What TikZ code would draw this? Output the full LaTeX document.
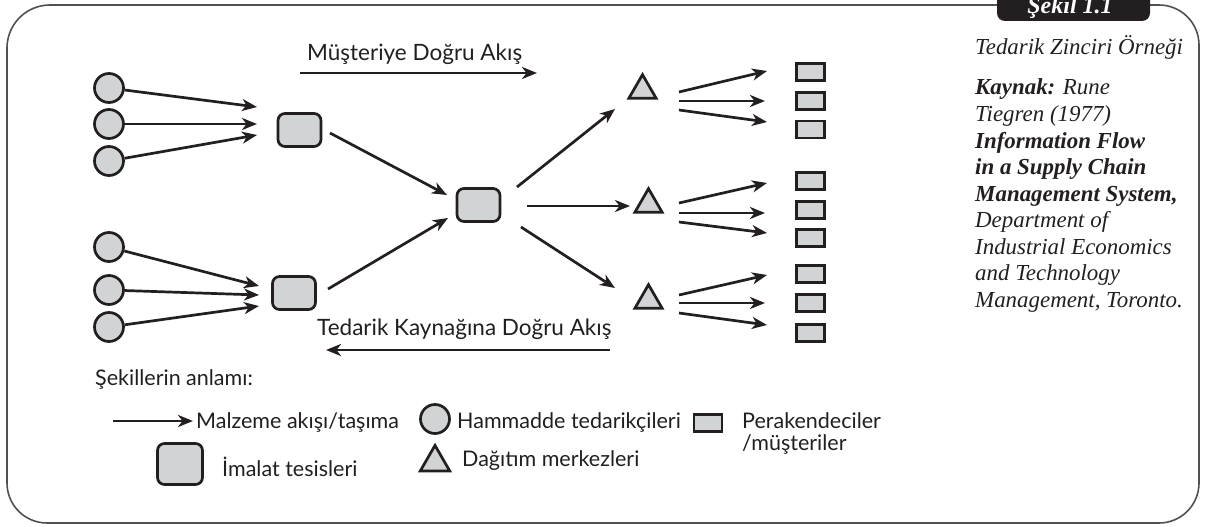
\documentclass[tikz,border=0pt]{standalone}
\usepackage{fontspec}
\newfontfamily\gill{Lato}
\newfontfamily\minion{Liberation Serif}
\usetikzlibrary{arrows.meta,shapes.geometric}
\definecolor{ink}{HTML}{231F20}
\definecolor{shade}{HTML}{D1D3D4}
\definecolor{framec}{HTML}{505050}
\begin{document}
\begin{tikzpicture}[x=1pt,y=-1pt,
  sup/.style={circle,draw=ink,fill=shade,line width=2.7pt,minimum size=29pt,inner sep=0pt},
  plant/.style={rectangle,rounded corners=7pt,draw=ink,fill=shade,line width=2.7pt,minimum width=43pt,minimum height=33pt,inner sep=0pt},
  depot/.style={regular polygon,regular polygon sides=3,draw=ink,fill=shade,line width=2.7pt,minimum size=31.5pt,inner sep=0pt},
  shop/.style={rectangle,draw=ink,fill=shade,line width=2.7pt,minimum width=28pt,minimum height=17pt,inner sep=0pt},
  flow/.style={draw=ink,line width=2.7pt,-{Stealth[length=15pt,width=12pt,inset=4.5pt]}},
  lbl/.style={font=\gill\fontsize{22.5}{26}\selectfont,text=ink,inner sep=0pt},
  leg/.style={font=\gill\fontsize{21.5}{25}\selectfont,text=ink,inner sep=0pt,anchor=base west},
  side/.style={font=\minion\itshape\fontsize{22.9}{27}\selectfont,text=ink,inner sep=0pt,anchor=base west},
  sideb/.style={font=\minion\bfseries\itshape\fontsize{22.9}{27}\selectfont,text=ink,inner sep=0pt,anchor=base west},
  frame/.style={draw=framec,line width=1.6pt}
]
\useasboundingbox (0,0) rectangle (1205,527);

% outer frame
\draw[frame,rounded corners=43pt] (997,5) -- (7,5) [rounded corners=40pt] -- (7,523) -- (1199,523) -- (1199,5) -- (1150,5);
% tab
\fill[ink,rounded corners=8pt] (997,-20) rectangle (1150,21);
\node[font=\minion\bfseries\itshape\fontsize{24}{28}\selectfont,text=white,inner sep=0pt,anchor=base] (tab) at (1070,14) {Şekil 1.1};

% suppliers
\node[sup] (s1) at (109,88) {};
\node[sup] (s2) at (109,124) {};
\node[sup] (s3) at (109,161) {};
\node[sup] (s4) at (109,247) {};
\node[sup] (s5) at (109,290) {};
\node[sup] (s6) at (109,327) {};
% plants
\node[plant] (p1) at (299.5,130) {};
\node[plant] (p2) at (294,293) {};
\node[plant] (hub) at (478.5,205) {};
% distribution centres
\node[depot] (d1) at (642.5,90.4) {};
\node[depot] (d2) at (648.5,204.4) {};
\node[depot] (d3) at (648.5,300.4) {};
% retailers
\foreach \n/\y in {r1/72,r2/101,r3/129.5,r4/181,r5/210,r6/238,r7/274,r8/303,r9/333}
  \node[shop] (\n) at (810.5,\y) {};

% arrow ends
\coordinate (p1a) at (257,107); \coordinate (p1b) at (257,124); \coordinate (p1c) at (257,135);
\coordinate (p2a) at (259,286); \coordinate (p2b) at (259,295); \coordinate (p2c) at (259,306);
\draw[flow] (s1) -- (p1a); \draw[flow] (s2) -- (p1b); \draw[flow] (s3) -- (p1c);
\draw[flow] (s4) -- (p2a); \draw[flow] (s5) -- (p2b); \draw[flow] (s6) -- (p2c);

\coordinate (p1o) at (330,133); \coordinate (hubi1) at (447,195);
\coordinate (p2o) at (328,289); \coordinate (hubi2) at (448,218);
\draw[flow] (p1o) -- (hubi1); \draw[flow] (p2o) -- (hubi2);

\coordinate (ho1) at (517,187); \coordinate (d1i) at (615,109);
\coordinate (ho2) at (527,206); \coordinate (d2i) at (630,206);
\coordinate (ho3) at (521,227); \coordinate (d3i) at (615,288);
\draw[flow] (ho1) -- (d1i); \draw[flow] (ho2) -- (d2i); \draw[flow] (ho3) -- (d3i);

\foreach \d/\a/\b/\c in {d1/92/101/110, d2/203/213/222, d3/295/303/313}{
  \coordinate (\d o1) at (679,\a); \coordinate (\d o2) at (679,\b); \coordinate (\d o3) at (679,\c);
}
\coordinate (r1i) at (767,71);  \coordinate (r2i) at (765,101); \coordinate (r3i) at (767,122);
\coordinate (r4i) at (767,183); \coordinate (r5i) at (765,213); \coordinate (r6i) at (767,233);
\coordinate (r7i) at (767,275); \coordinate (r8i) at (765,303); \coordinate (r9i) at (767,325);
\draw[flow] (d1o1) -- (r1i); \draw[flow] (d1o2) -- (r2i); \draw[flow] (d1o3) -- (r3i);
\draw[flow] (d2o1) -- (r4i); \draw[flow] (d2o2) -- (r5i); \draw[flow] (d2o3) -- (r6i);
\draw[flow] (d3o1) -- (r7i); \draw[flow] (d3o2) -- (r8i); \draw[flow] (d3o3) -- (r9i);

% direction labels
\node[lbl,anchor=base west] (tocust) at (307,60) {Müşteriye Doğru Akış};
\coordinate (tca) at (300,73); \coordinate (tcb) at (537,73);
\draw[flow] (tca) -- (tcb);
\node[lbl,anchor=base west] (tosrc) at (317,335) {Tedarik Kaynağına Doğru Akış};
\coordinate (tsa) at (610,350); \coordinate (tsb) at (326,350);
\draw[flow] (tsa) -- (tsb);

% legend
\node[leg] (legt) at (95,385) {Şekillerin anlamı:};
\coordinate (la1) at (113,421); \coordinate (la2) at (193,421);
\draw[flow] (la1) -- (la2);
\node[leg] (lm) at (196,428) {Malzeme akışı/taşıma};
\node[sup] (lc) at (435,419) {};
\node[leg] (lh) at (457,428) {Hammadde tedarikçileri};
\node[shop] (lr) at (708,423) {};
\node[leg] (lp) at (742,428) {Perakendeciler};
\node[leg] (lp2) at (742,450) {/müşteriler};
\node[plant,minimum width=45pt,minimum height=41pt] (lpl) at (180,464) {};
\node[leg] (li) at (222,476) {İmalat tesisleri};
\node[depot,minimum size=34pt] (ld) at (435,462.4) {};
\node[leg] (ldt) at (462,466) {Dağıtım merkezleri};

% side text
\node[side] (cap) at (975,55) {Tedarik Zinciri Örneği};
\node[side] (k1) at (975,95) {\textbf{Kaynak:} Rune};
\node[side] (k2) at (975,121.5) {Tiegren (1977)};
\node[sideb] (k3) at (975,148) {Information Flow};
\node[sideb] (k4) at (975,174.5) {in a Supply Chain};
\node[sideb] (k5) at (975,201) {Management System,};
\node[side] (k6) at (975,227.5) {Department of};
\node[side] (k7) at (975,254) {Industrial Economics};
\node[side] (k8) at (975,280.5) {and Technology};
\node[side] (k9) at (975,307) {Management, Toronto.};
\end{tikzpicture}
\end{document}
